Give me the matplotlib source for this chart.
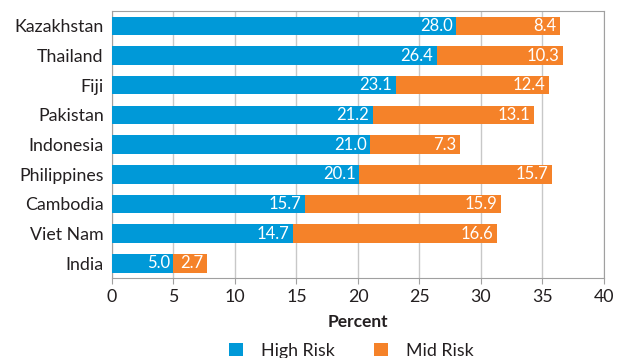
import matplotlib.pyplot as plt
import numpy as np

plt.rcParams['font.family'] = ['Lato', 'DejaVu Sans']

countries = ['Kazakhstan', 'Thailand', 'Fiji', 'Pakistan', 'Indonesia',
             'Philippines', 'Cambodia', 'Viet Nam', 'India']
high_risk = [28.0, 26.4, 23.1, 21.2, 21.0, 20.1, 15.7, 14.7, 5.0]
mid_risk = [8.4, 10.3, 12.4, 13.1, 7.3, 15.7, 15.9, 16.6, 2.7]

blue = '#0099d8'
orange = '#f58229'
text_col = '#231f20'

fig = plt.figure(figsize=(6.22, 3.58), dpi=100)
ax = fig.add_axes([0.180, 0.223, 0.791, 0.746])

y = np.arange(len(countries))
h = 0.62
ax.barh(y, high_risk, height=h, color=blue, label='High Risk', zorder=3)
ax.barh(y, mid_risk, left=high_risk, height=h, color=orange, label='Mid Risk', zorder=3)

# white value labels at the end of each segment
for i in range(len(countries)):
    ax.text(high_risk[i] - 0.3, y[i], f'{high_risk[i]:.1f}', ha='right', va='center',
            color='white', fontsize=12, zorder=4)
    ax.text(high_risk[i] + mid_risk[i] - 0.3, y[i], f'{mid_risk[i]:.1f}', ha='right',
            va='center', color='white', fontsize=12, zorder=4)

ax.set_xlim(0, 40)
ax.set_ylim(len(countries) - 0.5, -0.5)
ax.set_xticks(range(0, 41, 5))
ax.set_yticks(y)
ax.set_yticklabels(countries)
ax.grid(axis='x', color='#c8c8c8', linewidth=1, zorder=0)
for s in ax.spines.values():
    s.set_color('#a0a0a0')
ax.tick_params(axis='y', length=0, labelsize=12.8, labelcolor=text_col, pad=6)
ax.tick_params(axis='x', length=4, color='#a0a0a0', labelsize=12.8, labelcolor=text_col)
ax.set_xlabel('Percent', fontsize=12.5, fontweight='bold', color=text_col, labelpad=7)

ax.legend(loc='center', bbox_to_anchor=(0.486, -0.272), ncol=2, frameon=False,
          fontsize=12.8, handlelength=0.8, handleheight=0.8, columnspacing=2.2,
          handletextpad=1.0, labelcolor=text_col)

fig.savefig('out.png', dpi=100)
